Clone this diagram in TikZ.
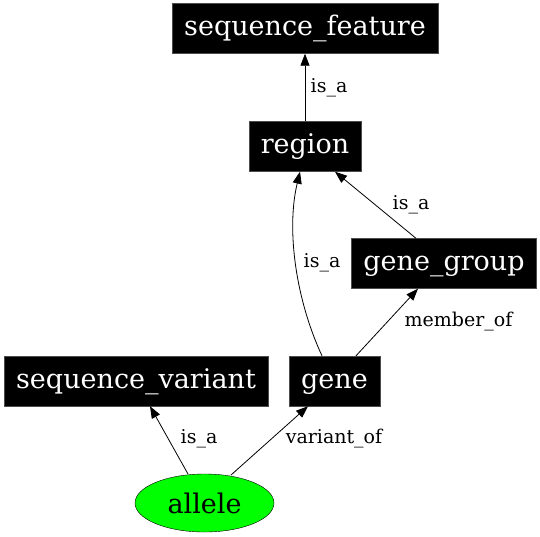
\documentclass[tikz,border=0pt]{standalone}
\usepackage{fontspec}
\setmainfont{DejaVu Serif}
\usetikzlibrary{arrows.meta,shapes.geometric,calc}

\begin{document}
\begin{tikzpicture}[x=1pt,y=-1pt,
	term/.style={rectangle, fill=black, draw=black!70, text=white, font=\fontsize{27}{31}\selectfont, inner xsep=12pt, inner ysep=0pt, minimum height=50pt, text height=20pt, text depth=6pt},
	leaf/.style={ellipse, fill=green, draw=black, font=\fontsize{27}{31}\selectfont, minimum width=139pt, minimum height=58pt, inner sep=0pt},
	rel/.style={font=\fontsize{19}{23}\selectfont, inner sep=0pt},
	edge/.style={-{Triangle[length=12pt,width=9pt]}, line width=0.8pt}]
	\useasboundingbox (0,0) rectangle (540,536);
	\node[term] (feature) at (305,28.5) {sequence\_feature};
	\node[term] (region) at (305,146.5) {region};
	\node[term] (group) at (444,263.5) {gene\_group};
	\node[term] (variant) at (136,381) {sequence\_variant};
	\node[term] (gene) at (334.5,381) {gene};
	\node[leaf] (allele) at (204.5,503) {allele};

	\draw[edge] (region.north) -- (feature.south);
	\node[rel] (l1) at (329,88) {is\_a};
	\draw[edge] ([xshift=-28pt]group.north) -- ([xshift=30pt]region.south);
	\node[rel] (l2) at (411,205) {is\_a};
	\draw[edge] ([xshift=-12.5pt]gene.north) .. controls (296,300) and (286,230) .. ([xshift=-5pt]region.south);
	\node[rel] (l3) at (322,263) {is\_a};
	\draw[edge] ([xshift=21.5pt]gene.north) -- ([xshift=-26pt]group.south);
	\node[rel] (l4) at (458.5,322) {member\_of};
	\draw[edge] ($(allele.center)+(-16.5,-29)$) -- ([xshift=14pt]variant.south);
	\node[rel] (l5) at (199,439) {is\_a};
	\draw[edge] ($(allele.center)+(26.5,-28)$) -- ([xshift=-26.5pt]gene.south);
	\node[rel] (l6) at (334,439) {variant\_of};
\end{tikzpicture}
\end{document}
